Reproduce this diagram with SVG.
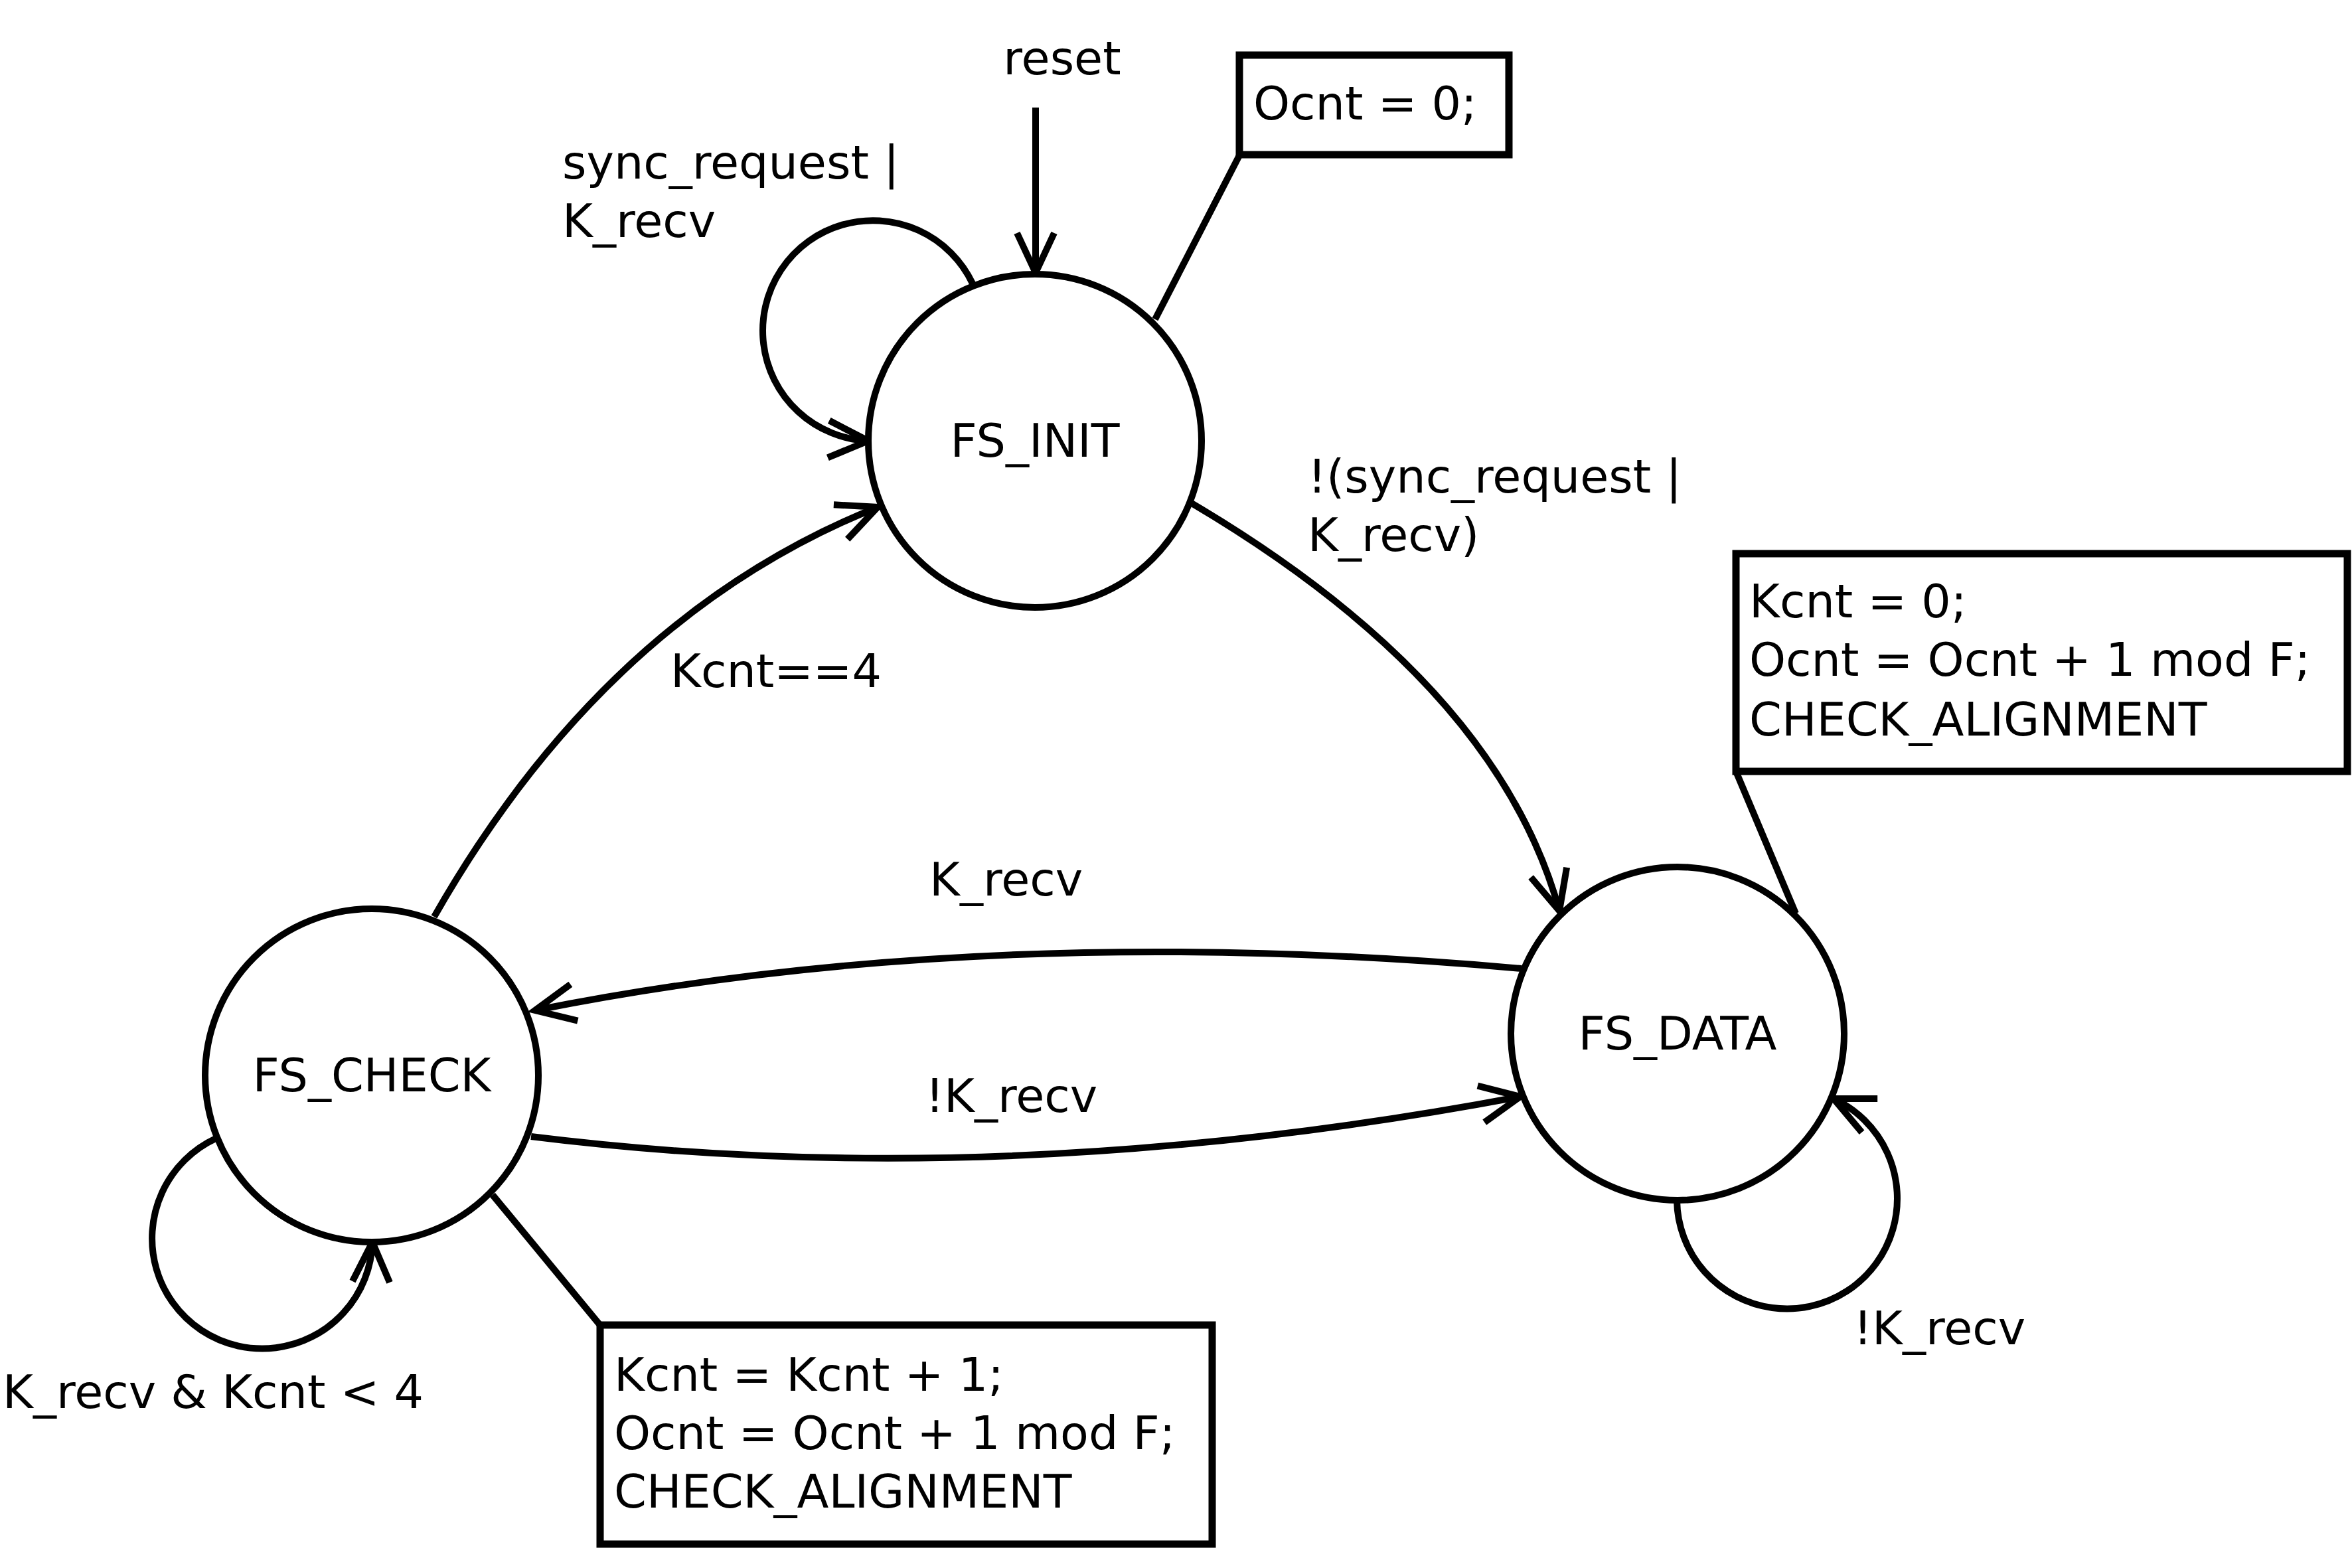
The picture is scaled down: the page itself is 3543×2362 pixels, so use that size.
<svg xmlns="http://www.w3.org/2000/svg" width="3543" height="2362" viewBox="0 0 3543 2362">
<style>
text{font-family:"DejaVu Sans","Liberation Sans",sans-serif;font-size:70px;fill:#000}
.st{fill:#fff;stroke:#000;stroke-width:10}
.box{fill:#fff;stroke:#000;stroke-width:11}
.c{fill:none;stroke:#000;stroke-width:10}
.mid{text-anchor:middle}
</style>
<defs>
<marker id="ah" markerUnits="userSpaceOnUse" viewBox="-80 -40 90 80" refX="0" refY="0" markerWidth="90" markerHeight="80" orient="auto" overflow="visible">
<path d="M -60 -28 L 0 0 L -60 28" fill="none" stroke="#000" stroke-width="10"/>
</marker>
</defs>
<rect width="3543" height="2362" fill="#fff"/>
<g id="connectors">
<path class="c" d="M 1560 162 L 1560 411" marker-end="url(#ah)"/>
<path class="c" d="M 1465 427 A 166 166 0 1 0 1308 664" marker-end="url(#ah)"/>
<path class="c" d="M 1795 758 Q 2255 1030 2349 1372" marker-end="url(#ah)"/>
<path class="c" d="M 654 1381 Q 912 928 1322 764" marker-end="url(#ah)"/>
<path class="c" d="M 2292 1459 Q 1480 1387 806 1522" marker-end="url(#ah)"/>
<path class="c" d="M 800 1712 Q 1506 1800 2290 1652" marker-end="url(#ah)"/>
<path class="c" d="M 325 1715 A 166 166 0 1 0 561 1871" marker-end="url(#ah)"/>
<path class="c" d="M 2526 1808 A 166 166 0 1 0 2762 1655" marker-end="url(#ah)"/>
<path class="c" d="M 1867 234 L 1740 481"/>
<path class="c" d="M 903 1995 L 742 1800"/>
<path class="c" d="M 2615 1162 L 2705 1376"/>
</g>
<g id="labels">
<text class="mid" x="1600" y="112">reset</text>
<text x="847" y="269">sync_request |</text>
<text x="847" y="357">K_recv</text>
<text x="1970" y="742">!(sync_request |</text>
<text x="1970" y="830">K_recv)</text>
<text x="1010" y="1035">Kcnt==4</text>
<text x="1400" y="1349">K_recv</text>
<text x="1394" y="1675">!K_recv</text>
<text x="4" y="2121">K_recv &amp; Kcnt &lt; 4</text>
<text x="2792" y="2025">!K_recv</text>
</g>
<g id="FS_INIT">
<circle class="st" cx="1559" cy="664" r="251"/>
<text class="mid" x="1559" y="688">FS_INIT</text>
</g>
<g id="FS_CHECK">
<circle class="st" cx="560" cy="1620" r="251"/>
<text class="mid" x="560" y="1644">FS_CHECK</text>
</g>
<g id="FS_DATA">
<circle class="st" cx="2527" cy="1557" r="251"/>
<text class="mid" x="2527" y="1581">FS_DATA</text>
</g>
<g id="note_init">
<rect class="box" x="1867" y="83" width="406" height="150"/>
<text x="1888" y="180">Ocnt = 0;</text>
</g>
<g id="note_check">
<rect class="box" x="904" y="1996" width="922" height="330"/>
<text x="925" y="2095">Kcnt = Kcnt + 1;</text>
<text x="925" y="2183">Ocnt = Ocnt + 1 mod F;</text>
<text x="925" y="2271">CHECK_ALIGNMENT</text>
</g>
<g id="note_data">
<rect class="box" x="2615" y="834" width="921" height="328"/>
<text x="2635" y="930">Kcnt = 0;</text>
<text x="2635" y="1018">Ocnt = Ocnt + 1 mod F;</text>
<text x="2635" y="1108">CHECK_ALIGNMENT</text>
</g>
</svg>
